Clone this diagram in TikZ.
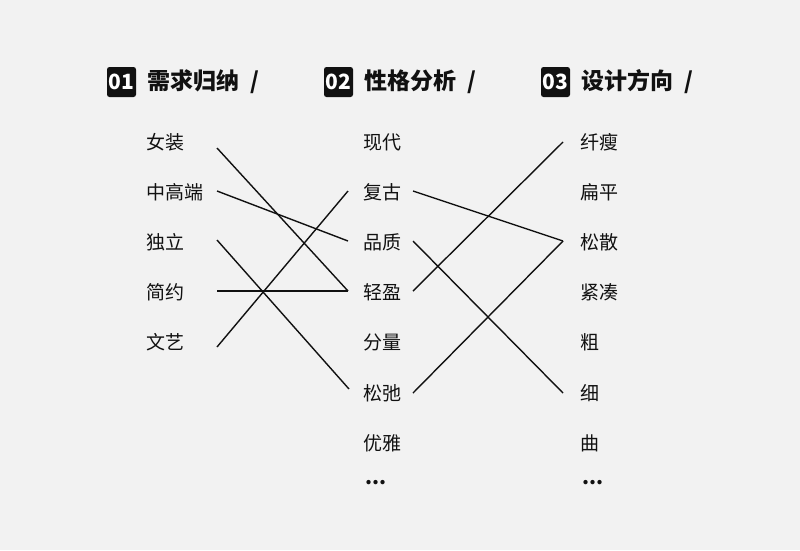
\documentclass[tikz,border=0pt]{standalone}
\usepackage{fontspec}
\setmainfont{Noto Sans CJK SC}
\usetikzlibrary{calc}
\definecolor{bg}{HTML}{F2F2F2}
\definecolor{ink}{HTML}{111111}
\newcommand{\hslash}{\kern6pt/}
\begin{document}
\begin{tikzpicture}[x=1pt,y=-1pt,
 item/.style={anchor=west,inner sep=0pt,font=\fontsize{19}{19}\selectfont,text=ink},
 head/.style={anchor=west,inner sep=0pt,font=\fontsize{23}{23}\selectfont\bfseries,text=ink},
 badge/.style={fill=ink,text=white,rounded corners=2.5pt,minimum width=29pt,minimum height=30pt,inner sep=0pt,font=\fontsize{21}{21}\selectfont\bfseries},
 link/.style={draw=ink,line width=1.4pt},
 dots/.style={anchor=base west,inner sep=0pt,font=\fontsize{20}{20}\selectfont\bfseries,text=ink}]
\fill[bg] (0,0) rectangle (800,550);
\useasboundingbox (0,0) rectangle (800,550);
% headers
\node[badge] (h1b) at (121.5,82) {01};
\node[head] (h1) at (147,82) {需求归纳 \hslash};
\node[badge] (h2b) at (338.5,82) {02};
\node[head] (h2) at (364,82) {性格分析 \hslash};
\node[badge] (h3b) at (555.5,82) {03};
\node[head] (h3) at (581,82) {设计方向 \hslash};
% column 1
\node[item] (a1) at (146,142) {女装};
\node[item] (a2) at (146,192) {中高端};
\node[item] (a3) at (146,242) {独立};
\node[item] (a4) at (146,292) {简约};
\node[item] (a5) at (146,342) {文艺};
% column 2
\node[item] (b1) at (363,142) {现代};
\node[item] (b2) at (363,192) {复古};
\node[item] (b3) at (363,242) {品质};
\node[item] (b4) at (363,292) {轻盈};
\node[item] (b5) at (363,342) {分量};
\node[item] (b6) at (363,393) {松弛};
\node[item] (b7) at (363,443) {优雅};
\node[dots] (b8) at (365,484) {...};
% column 3
\node[item] (c1) at (580,142) {纤瘦};
\node[item] (c2) at (580,192) {扁平};
\node[item] (c3) at (580,242) {松散};
\node[item] (c4) at (580,292) {紧凑};
\node[item] (c5) at (580,342) {粗};
\node[item] (c6) at (580,393) {细};
\node[item] (c7) at (580,443) {曲};
\node[dots] (c8) at (582,484) {...};
% links column 1 -> column 2
\draw[link] ($(a1.west)+(71,6)$) -- ($(b4.west)+(-15,-1)$);
\draw[link] ($(a2.west)+(71,-1)$) -- ($(b3.west)+(-15,-1)$);
\draw[link] ($(a3.west)+(71,-2)$) -- ($(b6.west)+(-14,-4)$);
\draw[link] ($(a4.west)+(71,-1)$) -- ($(b4.west)+(-15,-1)$);
\draw[link] ($(a5.west)+(71,5)$) -- ($(b2.west)+(-15,-1)$);
% links column 2 -> column 3
\draw[link] ($(b2.west)+(50,-1)$) -- ($(c3.west)+(-17,-1)$);
\draw[link] ($(b3.west)+(50,-1)$) -- ($(c6.west)+(-17,0)$);
\draw[link] ($(b4.west)+(50,-1)$) -- ($(c1.west)+(-17,0)$);
\draw[link] ($(b6.west)+(50,0)$) -- ($(c3.west)+(-17,-1)$);
\end{tikzpicture}
\end{document}
